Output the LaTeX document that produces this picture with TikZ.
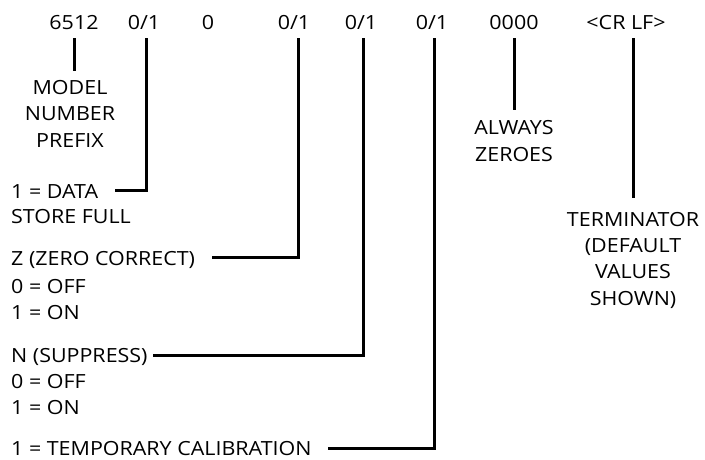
\documentclass[tikz,border=0pt]{standalone}
\usepackage{fontspec}
\setmainfont{Open Sans}[FakeStretch=1.10]
\begin{document}
\begin{tikzpicture}[x=1pt,y=-1pt,
  lab/.style={inner sep=0pt,font=\fontsize{19.5}{26.3}\selectfont},
  wire/.style={line width=3pt,line cap=butt,line join=miter}]
\useasboundingbox (0,0) rectangle (705,459);
% top row
\node[lab,anchor=base] (t1) at (74,29) {6512};
\node[lab,anchor=base] (t2) at (144,29) {0/1};
\node[lab,anchor=base] (t3) at (208,29) {0};
\node[lab,anchor=base] (t4) at (294,29) {0/1};
\node[lab,anchor=base] (t5) at (361,29) {0/1};
\node[lab,anchor=base] (t6) at (432,29) {0/1};
\node[lab,anchor=base] (t7) at (514,29) {0000};
\node[lab,anchor=base] (t8) at (626,29) {<CR LF>};
% labels
\node[lab,anchor=base,align=center] (model) at (70,147) {MODEL\\NUMBER\\PREFIX};
\node[lab,anchor=base west] (data) at (11,198) {1 = DATA};
\node[lab,anchor=base west] (store) at (11,223) {STORE FULL};
\node[lab,anchor=base west] (zc) at (11,265) {Z (ZERO CORRECT)};
\node[lab,anchor=base west] (zoff) at (11,293) {0 = OFF};
\node[lab,anchor=base west] (zon) at (11,319) {1 = ON};
\node[lab,anchor=base west] (ns) at (11,362) {N (SUPPRESS)};
\node[lab,anchor=base west] (noff) at (11,388) {0 = OFF};
\node[lab,anchor=base west] (non) at (11,414) {1 = ON};
\node[lab,anchor=base west] (tc) at (11,455) {1 = TEMPORARY CALIBRATION};
\node[lab,anchor=base,align=center] (az) at (514,161) {ALWAYS\\ZEROES};
\node[lab,anchor=base,align=center] (term) at (633,305) {TERMINATOR\\(DEFAULT\\VALUES\\SHOWN)};
% connectors
\coordinate (c1) at (74,38);
\coordinate (m1) at (74,71);
\draw[wire] (c1) -- (m1);
\coordinate (c2) at (146,38);
\coordinate (d2) at (115,190);
\draw[wire] (c2) |- (d2);
\coordinate (c4) at (298,38);
\coordinate (d4) at (212,257);
\draw[wire] (c4) |- (d4);
\coordinate (c5) at (363,38);
\coordinate (d5) at (153,355);
\draw[wire] (c5) |- (d5);
\coordinate (c6) at (434,38);
\coordinate (d6) at (328,448);
\draw[wire] (c6) |- (d6);
\coordinate (c7) at (514,38);
\coordinate (d7) at (514,110);
\draw[wire] (c7) -- (d7);
\coordinate (c8) at (633,38);
\coordinate (d8) at (633,198);
\draw[wire] (c8) -- (d8);
\end{tikzpicture}
\end{document}
